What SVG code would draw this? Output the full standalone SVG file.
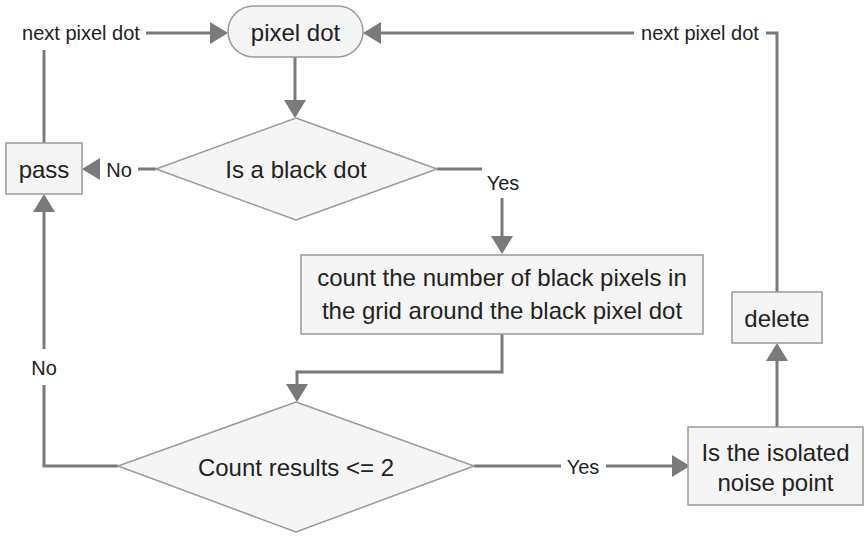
<svg xmlns="http://www.w3.org/2000/svg" width="866" height="536" viewBox="0 0 866 536">
  <style>
    .node { fill: #f5f5f5; stroke: #9a9a9a; stroke-width: 1.5; }
    .label { font-family: "Liberation Sans", Arial, Helvetica, sans-serif; font-size: 24px; fill: #222; text-anchor: middle; dominant-baseline: central; }
    .edge { fill: none; stroke: #7a7a7a; stroke-width: 3; }
    .edge-label { font-family: "Liberation Sans", Arial, Helvetica, sans-serif; font-size: 20px; fill: #222; text-anchor: middle; dominant-baseline: central; }
  </style>
  <defs>
    <marker id="arrow" markerUnits="userSpaceOnUse" viewBox="0 0 18 22" refX="14" refY="11" markerWidth="18" markerHeight="22" orient="auto">
      <path d="M0,0 L18,11 L0,22 z" fill="#7a7a7a"/>
    </marker>
  </defs>
  <rect width="866" height="536" fill="#ffffff"/>

  <!-- connectors -->
  <g id="connectors">
    <!-- pass -> pixel dot -->
    <path class="edge" d="M44,143 V50"/>
    <path class="edge" d="M146,33 H224" marker-end="url(#arrow)"/>
    <!-- delete -> pixel dot -->
    <path class="edge" d="M777,292 V33 H766"/>
    <path class="edge" d="M634,33 H367" marker-end="url(#arrow)"/>
    <!-- pixel dot -> decision -->
    <path class="edge" d="M295,57 V114" marker-end="url(#arrow)"/>
    <!-- decision No -> pass -->
    <path class="edge" d="M156,169 H138"/>
    <path class="edge" d="M100,169 H86" marker-end="url(#arrow)"/>
    <!-- decision Yes -> count -->
    <path class="edge" d="M437,169 H482"/>
    <path class="edge" d="M502,198 V250" marker-end="url(#arrow)"/>
    <!-- count -> decision 2 -->
    <path class="edge" d="M502,334 V372 H297 V398" marker-end="url(#arrow)"/>
    <!-- decision 2 No -> pass -->
    <path class="edge" d="M118,466 H44 V385"/>
    <path class="edge" d="M44,349 V198" marker-end="url(#arrow)"/>
    <!-- decision 2 Yes -> isolated -->
    <path class="edge" d="M474,466 H561"/>
    <path class="edge" d="M606,466 H686" marker-end="url(#arrow)"/>
    <!-- isolated -> delete -->
    <path class="edge" d="M777,427 V347" marker-end="url(#arrow)"/>

    <text class="edge-label" x="81" y="33">next pixel dot</text>
    <text class="edge-label" x="700" y="33">next pixel dot</text>
    <text class="edge-label" x="119" y="170">No</text>
    <text class="edge-label" x="503" y="183">Yes</text>
    <text class="edge-label" x="44" y="368">No</text>
    <text class="edge-label" x="583" y="467">Yes</text>
  </g>

  <g id="start">
    <rect class="node" x="228" y="6" width="135" height="51" rx="25.5"/>
    <text class="label" x="295.5" y="32">pixel dot</text>
  </g>

  <g id="is-black">
    <polygon class="node" points="296,118 437,169 296,220 156,169"/>
    <text class="label" x="296" y="169">Is a black dot</text>
  </g>

  <g id="pass">
    <rect class="node" x="6" y="143" width="76" height="51"/>
    <text class="label" x="44" y="169">pass</text>
  </g>

  <g id="count">
    <rect class="node" x="301" y="255" width="402" height="79"/>
    <text class="label" x="502" y="277">count the number of black pixels in</text>
    <text class="label" x="502" y="310">the grid around the black pixel dot</text>
  </g>

  <g id="count-check">
    <polygon class="node" points="296,402 474,466 296,532 118,466"/>
    <text class="label" x="296" y="467">Count results &lt;= 2</text>
  </g>

  <g id="isolated">
    <rect class="node" x="688" y="427" width="175" height="78"/>
    <text class="label" x="775.5" y="452">Is the isolated</text>
    <text class="label" x="775.5" y="482">noise point</text>
  </g>

  <g id="delete">
    <rect class="node" x="732" y="292" width="90" height="51"/>
    <text class="label" x="777" y="318">delete</text>
  </g>
</svg>
